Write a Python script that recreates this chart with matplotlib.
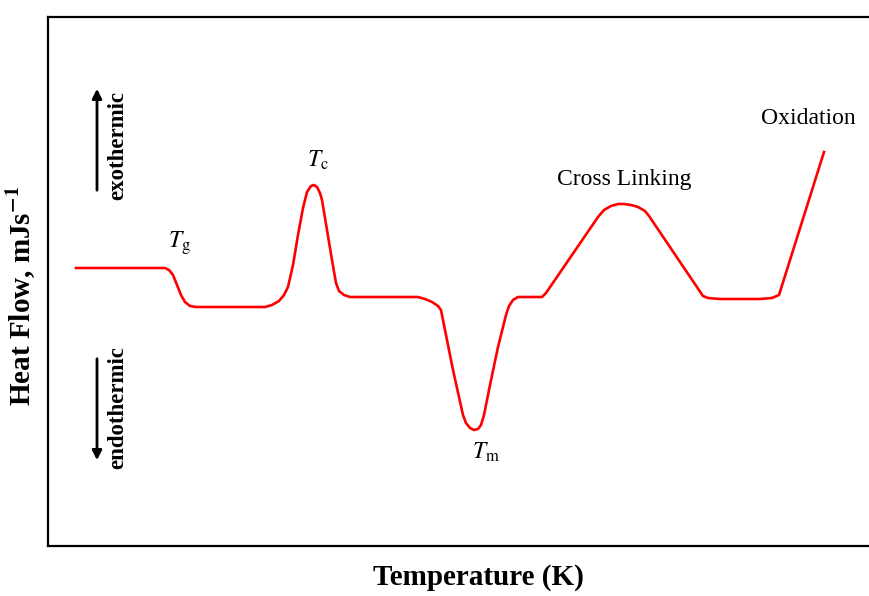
import matplotlib
matplotlib.use('Agg')
from matplotlib import pyplot as plt

plt.rcParams['font.family'] = ['Liberation Serif', 'DejaVu Serif']
plt.rcParams['mathtext.fontset'] = 'stix'

# schematic DSC trace (arbitrary temperature / heat flow units)
temp = [76, 165, 169, 173, 177, 181, 185, 190, 196, 265, 272, 279, 284, 288,
        293, 298, 303, 307, 311, 314, 317, 320, 322, 327, 332, 336, 339, 344,
        350, 418, 425, 432, 438, 441, 447, 453, 459, 463, 466, 470, 474, 478,
        481, 484, 490, 498, 506, 509, 513, 518, 542, 546, 572, 598, 604, 611,
        618, 624, 631, 638, 645, 649, 676, 703, 708, 720, 760, 772, 779, 824]
heat = [268, 268, 270, 275, 285, 295, 302, 306, 307, 307, 305, 301, 295, 287,
        265, 235, 208, 192, 186, 185, 187, 193, 200, 230, 260, 283, 291, 295,
        297, 297, 299, 302, 306, 310, 340, 370, 397, 415, 423, 428, 430, 429,
        425, 415, 385, 347, 315, 306, 300, 297, 297, 293, 255, 217, 210, 206,
        204, 204, 205, 207, 211, 216, 256, 296, 298, 299, 299, 298, 295, 152]
heat = [596 - h for h in heat]

fig = plt.figure(figsize=(8.69, 5.96), dpi=100)
ax = fig.add_axes([48 / 869, 50 / 596, 860 / 869, 529 / 596])
ax.plot(temp, heat, color='red', lw=1.9, solid_joinstyle='round')
ax.set_xlim(48, 908)
ax.set_ylim(50, 579)
ax.set_xticks([])
ax.set_yticks([])
for s in ax.spines.values():
    s.set_linewidth(1.6)
ax.spines['right'].set_visible(False)

ax.set_xlabel('Temperature (K)', fontsize=21, fontweight='bold')
ax.xaxis.set_label_coords(0.5, -0.034)
ax.set_ylabel('Heat Flow, mJs$^{\\mathbf{-1}}$', fontsize=21, fontweight='bold')
ax.yaxis.set_label_coords(-0.012, 0.473)

# peak labels
ax.text(318, 596 - 160, '$T_{\\mathrm{c}}$', fontsize=17, ha='center', va='center')
ax.text(179, 596 - 243, '$T_{\\mathrm{g}}$', fontsize=17, ha='center', va='center')
ax.text(486, 596 - 452, '$T_{\\mathrm{m}}$', fontsize=17, ha='center', va='center')
ax.text(624, 596 - 180, 'Cross Linking', fontsize=17, ha='center', va='center')
ax.text(808, 596 - 119, 'Oxidation', fontsize=17, ha='center', va='center')

# exo / endo arrows
ax.annotate('', xy=(97, 596 - 86), xytext=(97, 596 - 193),
            arrowprops=dict(arrowstyle='-|>', color='black', lw=2, mutation_scale=14))
ax.annotate('', xy=(97, 596 - 463), xytext=(97, 596 - 356),
            arrowprops=dict(arrowstyle='-|>', color='black', lw=2, mutation_scale=14))
ax.text(118, 596 - 145, 'exothermic', rotation=90, fontsize=16.5, fontweight='bold',
        ha='center', va='center')
ax.text(118, 596 - 408, 'endothermic', rotation=90, fontsize=16.5, fontweight='bold',
        ha='center', va='center')

plt.savefig('out.png', dpi=100)
